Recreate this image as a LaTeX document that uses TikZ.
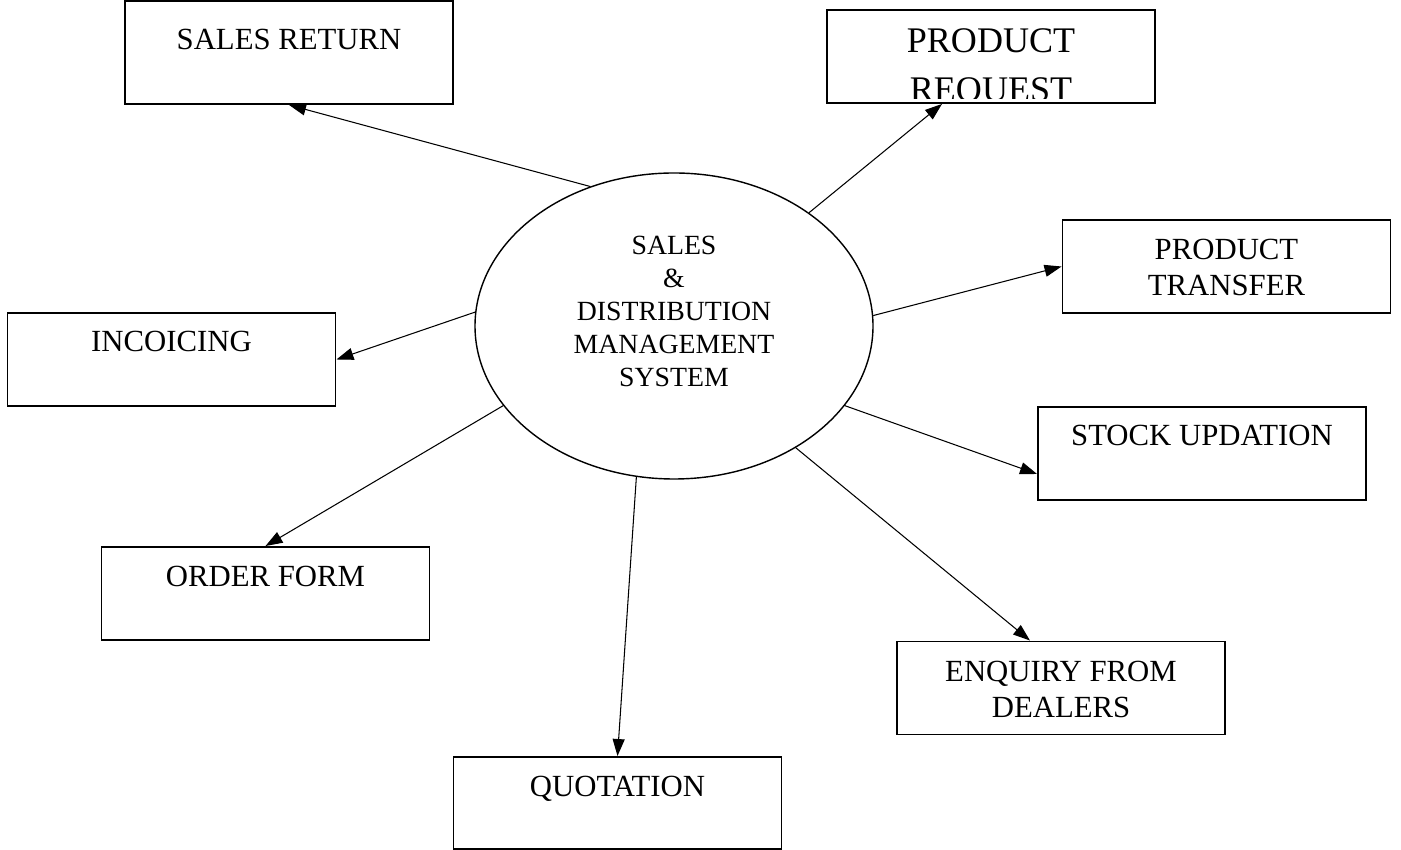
\documentclass[tikz,border=0pt]{standalone}
\usepackage{fontspec}
\setmainfont{Liberation Serif}
\usetikzlibrary{arrows.meta, shapes.geometric, positioning}

\begin{document}
\begin{tikzpicture}[
  box/.style={draw, line width=1.1pt, minimum width=6.56cm, minimum height=1.86cm, inner sep=0pt},
  lbl/.style={inner sep=0pt, align=center, font=\fontsize{17.5}{20.5}\selectfont},
  flow/.style={-{Triangle[length=0.34cm,width=0.24cm]}, line width=0.6pt}
]
\useasboundingbox (0,0) rectangle (28.02,17);

% Central process
\node[draw, ellipse, line width=0.8pt, inner sep=0pt, minimum width=7.96cm, minimum height=6.12cm] (sys) at (13.48,10.48) {};
\node[lbl, font=\fontsize{15.8}{18.8}\selectfont, below=1.26cm of sys.north] (sysT) {SALES\\\&\\DISTRIBUTION\\MANAGEMENT\\SYSTEM};

% Left side
\node[box, minimum height=2.06cm] (sret) at (5.78,15.95) {};
\node[lbl, below=0.58cm of sret.north] (sretT) {SALES RETURN};

\node[box] (inv) at (3.43,9.81) {};
\node[lbl, below=0.38cm of inv.north] (invT) {INCOICING};

\node[box] (order) at (5.31,5.13) {};
\node[lbl, below=0.40cm of order.north] (orderT) {ORDER FORM};

\node[box, minimum height=1.84cm] (quot) at (12.35,0.94) {};
\node[lbl, below=0.40cm of quot.north] (quotT) {QUOTATION};

% Right side
\node[box] (preq) at (19.82,15.87) {};
\begin{scope}
\clip ([yshift=0.1cm]preq.south west) rectangle (preq.north east);
\node[lbl, font=\fontsize{20.5}{28}\selectfont, below=0.38cm of preq.north] (preqT) {PRODUCT\\REQUEST};
\end{scope}

\node[box] (ptrans) at (24.53,11.67) {};
\node[lbl, below=0.40cm of ptrans.north] (ptransT) {PRODUCT\\TRANSFER};

\node[box] (stock) at (24.04,7.93) {};
\node[lbl, below=0.38cm of stock.north] (stockT) {STOCK UPDATION};

\node[box] (enq) at (21.22,3.24) {};
\node[lbl, below=0.40cm of enq.north] (enqT) {ENQUIRY FROM\\DEALERS};

% Data flows
\draw[flow] (sys.121.7) -- (sret.south);
\draw[flow] (sys.40.3) -- ([xshift=-0.98cm]preq.south);
\draw[flow] (sys.3.7) -- (ptrans.west);
\draw[flow] (sys.176.2) -- (inv.east);
\draw[flow] (sys.335) -- ([yshift=-0.41cm]stock.west);
\draw[flow] (sys.205.1) -- (order.north);
\draw[flow] (sys.315.4) -- ([xshift=-0.62cm]enq.north);
\draw[flow] (sys.256) -- (quot.north);
\end{tikzpicture}
\end{document}
